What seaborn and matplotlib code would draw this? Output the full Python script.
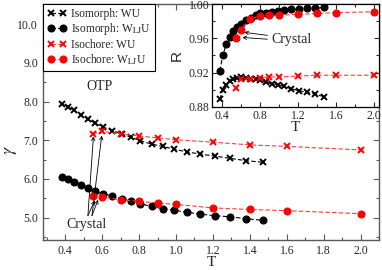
import numpy as np
import pandas as pd
import matplotlib
matplotlib.use("Agg")
import matplotlib.pyplot as plt
from matplotlib.ticker import MultipleLocator, FormatStrFormatter
import seaborn as sns

# temperatures along the isomorph and the isochore
T_isomorph = [0.381, 0.413, 0.449, 0.485, 0.522, 0.561, 0.606, 0.655, 0.705, 0.756,
              0.804, 0.868, 0.927, 0.990, 1.057, 1.132, 1.210, 1.295, 1.381, 1.471]
T_isochore = [0.55, 0.6, 0.7, 0.8, 0.9, 1.0, 1.2, 1.4, 1.6, 2.0]

# gamma (main panel)
gamma_iso_wu = [7.93, 7.86, 7.77, 7.65, 7.55, 7.44, 7.34, 7.25, 7.16, 7.08,
                6.99, 6.90, 6.84, 6.77, 6.70, 6.64, 6.59, 6.53, 6.47, 6.43]
gamma_iso_wlju = [6.04, 5.99, 5.93, 5.85, 5.76, 5.68, 5.62, 5.55, 5.49, 5.42,
                  5.36, 5.29, 5.23, 5.19, 5.14, 5.09, 5.05, 5.02, 4.97, 4.93]
gamma_ich_wu = [7.16, 7.23, 7.16, 7.11, 7.06, 7.01, 6.95, 6.88, 6.84, 6.75]
gamma_ich_wlju = [5.57, 5.53, 5.46, 5.42, 5.38, 5.34, 5.25, 5.21, 5.18, 5.10]

# correlation coefficient R (inset)
R_iso_wu = [0.889, 0.900, 0.906, 0.910, 0.913, 0.914, 0.915, 0.914, 0.913, 0.912,
            0.911, 0.909, 0.907, 0.906, 0.904, 0.901, 0.899, 0.897, 0.895, 0.892]
R_iso_wlju = [0.922, 0.940, 0.953, 0.962, 0.968, 0.973, 0.977, 0.981, 0.984, 0.987,
              0.989, 0.990, 0.991, 0.992, 0.993, 0.994, 0.994, 0.995, 0.995, 0.996]
R_ich_wu = [0.902, 0.912, 0.913, 0.914, 0.915, 0.915, 0.916, 0.917, 0.917, 0.917]
R_ich_wlju = [0.960, 0.970, 0.983, 0.986, 0.987, 0.987, 0.988, 0.989, 0.990, 0.991]

labels = ["Isomorph: WU", "Isomorph: W$_{\\rm LJ}$U",
          "Isochore: WU", "Isochore: W$_{\\rm LJ}$U"]

sns.set_style("ticks")
plt.rcParams["font.family"] = ["Liberation Serif", "DejaVu Serif"]
plt.rcParams["mathtext.fontset"] = "stix"

fig = plt.figure(figsize=(3.82, 2.70), dpi=100)
ax = fig.add_axes([0.1126, 0.111, 0.880, 0.874])
ins = fig.add_axes([0.555, 0.604, 0.437, 0.381])

series = [
    (T_isomorph, gamma_iso_wu, R_iso_wu, "x", "black", labels[0]),
    (T_isomorph, gamma_iso_wlju, R_iso_wlju, "o", "black", labels[1]),
    (T_isochore, gamma_ich_wu, R_ich_wu, "x", "red", labels[2]),
    (T_isochore, gamma_ich_wlju, R_ich_wlju, "o", "red", labels[3]),
]

for T, g, r, m, c, lab in series:
    ms = 4.5 if m == "x" else 5
    line_c = "#ff3b3b" if c == "red" else c
    kw = dict(marker=m, color=line_c, linestyle=(0, (4, 2)), linewidth=0.8,
              markersize=ms, markeredgewidth=1.4 if m == "x" else 0.8,
              markeredgecolor=c, markerfacecolor=c)
    sns.lineplot(x=T, y=g, ax=ax, label=lab, **kw)
    sns.lineplot(x=T, y=r, ax=ins, **kw)

# main axes styling
ax.set_xlim(0.28, 2.1)
ax.set_ylim(4.42, 10.52)
ax.xaxis.set_major_locator(MultipleLocator(0.2))
ax.xaxis.set_minor_locator(MultipleLocator(0.1))
ax.yaxis.set_major_locator(MultipleLocator(1.0))
ax.yaxis.set_minor_locator(MultipleLocator(0.5))
ax.xaxis.set_major_formatter(FormatStrFormatter("%.1f"))
ax.yaxis.set_major_formatter(FormatStrFormatter("%.1f"))
ax.tick_params(which="both", direction="in", top=True, right=True,
               labelsize=8.5, color="0.35", pad=3.5)
ax.tick_params(which="major", length=4, width=0.8)
ax.tick_params(which="minor", length=2.2, width=0.8)
for s in ax.spines.values():
    s.set_color("0.35")
    s.set_linewidth(1.0)
ax.set_xlabel("T", fontsize=11)
ax.set_ylabel("$\\gamma$", fontsize=13, rotation=90)
ax.xaxis.set_label_coords(0.5, -0.068)
ax.yaxis.set_label_coords(-0.072, 0.38)

leg = ax.legend(loc="upper left", borderaxespad=0, numpoints=2, fontsize=8.3,
                handlelength=1.7, handletextpad=0.4, labelspacing=0.12,
                borderpad=0.35, fancybox=False, framealpha=1)
leg.get_frame().set_edgecolor("black")
leg.get_frame().set_linewidth(0.8)

ax.text(0.588, 8.38, "OTP", fontsize=10, ha="center", va="center")
ax.text(0.515, 4.82, "Crystal", fontsize=10, ha="center", va="center")
arrow = dict(arrowstyle="->", color="black", lw=0.6, shrinkA=0, shrinkB=0,
             mutation_scale=6)
for start, end in [((0.523, 5.05), (0.553, 7.10)), ((0.545, 5.05), (0.598, 7.12)),
                   ((0.523, 5.05), (0.560, 5.44)), ((0.545, 5.05), (0.578, 5.46))]:
    ax.annotate("", xy=end, xytext=start, arrowprops=arrow)

# inset styling
ins.set_xlim(0.3, 2.05)
ins.set_ylim(0.88, 1.0)
ins.xaxis.set_major_locator(MultipleLocator(0.4))
ins.xaxis.set_minor_locator(MultipleLocator(0.2))
ins.yaxis.set_major_locator(MultipleLocator(0.04))
ins.yaxis.set_minor_locator(MultipleLocator(0.02))
ins.xaxis.set_major_formatter(FormatStrFormatter("%.1f"))
ins.yaxis.set_major_formatter(FormatStrFormatter("%.2f"))
ins.tick_params(which="both", direction="in", top=True, right=True,
                labelsize=8.5, pad=2)
ins.tick_params(which="major", length=3.5, width=0.8)
ins.tick_params(which="minor", length=2, width=0.8)
for s in ins.spines.values():
    s.set_color("black")
    s.set_linewidth(0.9)
ins.set_xlabel("T", fontsize=11, labelpad=0)
ins.set_ylabel("R", fontsize=11, family=["Liberation Sans", "DejaVu Sans"])
ins.xaxis.set_label_coords(0.5, -0.14)
ins.yaxis.set_label_coords(-0.17, 0.5)

ins.text(0.918, 0.959, "Crystal", fontsize=10, ha="left", va="center")
for start, end in [((0.88, 0.9635), (0.638, 0.967)), ((0.88, 0.959), (0.618, 0.961))]:
    ins.annotate("", xy=end, xytext=start, arrowprops=arrow)

fig.savefig("out.png", dpi=100)
